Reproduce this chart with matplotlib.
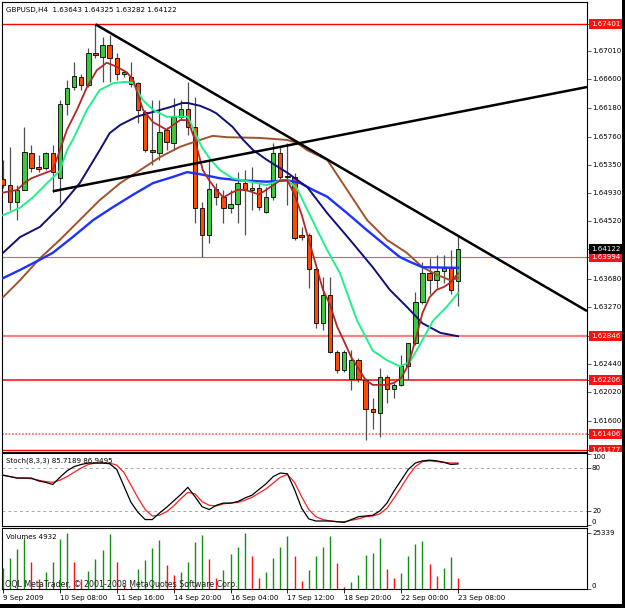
import matplotlib
matplotlib.use('Agg')
import matplotlib.pyplot as plt
import numpy as np
from matplotlib.transforms import blended_transform_factory, Bbox
from matplotlib.patches import Rectangle

# ---------------- data ----------------
opens = [1.6514, 1.6505, 1.6480, 1.6498, 1.6552, 1.6531, 1.6530, 1.6552, 1.6515, 1.6624,
         1.6648, 1.6663, 1.6651, 1.6698, 1.6692, 1.6710, 1.6691, 1.6667, 1.6663, 1.6654,
         1.6612, 1.6556, 1.6552, 1.6585, 1.6567, 1.6605, 1.6616, 1.6590, 1.6472, 1.6432,
         1.6499, 1.6488, 1.6472, 1.6477, 1.6508, 1.6498, 1.6501, 1.6466, 1.6488, 1.6552,
         1.6517, 1.6517, 1.6432, 1.6432, 1.6382, 1.6303, 1.6344, 1.6261, 1.6235, 1.6222,
         1.6249, 1.6220, 1.6178, 1.6172, 1.6225, 1.6207, 1.6213, 1.6241, 1.6274, 1.6334,
         1.6376, 1.6366, 1.6379, 1.6384, 1.63643]
highs = [1.6542, 1.6561, 1.6505, 1.6590, 1.6564, 1.6549, 1.6553, 1.6564, 1.6629, 1.6659,
         1.6685, 1.6667, 1.6705, 1.67401, 1.6722, 1.6724, 1.6698, 1.6673, 1.6685, 1.6656,
         1.6615, 1.6629, 1.6629, 1.6590, 1.6632, 1.6629, 1.6656, 1.6634, 1.6480, 1.6542,
         1.6508, 1.6498, 1.6498, 1.6524, 1.6527, 1.6531, 1.6508, 1.6502, 1.6566, 1.6561,
         1.6566, 1.6523, 1.6444, 1.6435, 1.6384, 1.6371, 1.6371, 1.6264, 1.6264, 1.6264,
         1.6252, 1.6223, 1.6194, 1.6238, 1.6227, 1.6216, 1.6257, 1.6274, 1.6348, 1.6393,
         1.6398, 1.6403, 1.6403, 1.6410, 1.64325]
lows = [1.6501, 1.6469, 1.6454, 1.6501, 1.6524, 1.6524, 1.6527, 1.6495, 1.6479, 1.6607,
        1.6644, 1.6644, 1.6648, 1.6691, 1.6656, 1.6656, 1.6659, 1.6663, 1.6648, 1.6596,
        1.6553, 1.6534, 1.6542, 1.6556, 1.6556, 1.6600, 1.6578, 1.6450, 1.6400, 1.6420,
        1.6476, 1.6450, 1.6464, 1.6450, 1.6432, 1.6469, 1.6469, 1.6464, 1.6483, 1.6514,
        1.6476, 1.6425, 1.6425, 1.6355, 1.6296, 1.6293, 1.6260, 1.6230, 1.6232, 1.6205,
        1.6217, 1.6132, 1.6148, 1.6137, 1.6186, 1.6194, 1.6211, 1.6220, 1.6271, 1.6331,
        1.6346, 1.6354, 1.6362, 1.6346, 1.63282]
closes = [1.6505, 1.6480, 1.6498, 1.6553, 1.6530, 1.6529, 1.6552, 1.6524, 1.6624, 1.6647,
          1.6664, 1.6651, 1.6698, 1.6695, 1.6710, 1.6691, 1.6667, 1.6670, 1.6653, 1.6615,
          1.6556, 1.6553, 1.6582, 1.6568, 1.6605, 1.6616, 1.6590, 1.6472, 1.6432, 1.6499,
          1.6488, 1.6472, 1.6477, 1.6508, 1.6498, 1.6501, 1.6473, 1.6488, 1.6552, 1.6517,
          1.6519, 1.6428, 1.6429, 1.6382, 1.6303, 1.6344, 1.6261, 1.6235, 1.6261, 1.6249,
          1.6222, 1.6178, 1.6173, 1.6225, 1.6207, 1.6213, 1.6241, 1.6274, 1.6334, 1.6376,
          1.6366, 1.6379, 1.6384, 1.6352, 1.64122]

# moving averages (bar position, price)
ma_red_x = [0, 2, 3, 4, 6, 7, 8, 9, 10.4, 11.8, 13.2, 14.6, 16, 17.4, 18.3, 19.7, 21.1, 23, 24.9, 26,
            27, 28.1, 29, 30, 31, 32, 33, 34, 35, 36, 37, 38, 39, 40, 41, 42, 43, 44, 45, 46,
            47, 48, 49, 50, 51, 52, 53, 54, 55, 56, 57, 58, 59, 60, 61, 62, 63, 64]
ma_red_y = [1.6494, 1.6498, 1.6508, 1.6515, 1.6523, 1.6527, 1.6556, 1.6586, 1.6615, 1.6648,
            1.6673, 1.6684, 1.6678, 1.6670, 1.6659, 1.6615, 1.6597, 1.6586, 1.6600, 1.6600,
            1.6571, 1.6527, 1.6512, 1.6498, 1.6487, 1.6493, 1.6498, 1.6498, 1.6495, 1.6491,
            1.6498, 1.6505, 1.6512, 1.6512, 1.6491, 1.6462, 1.6425, 1.6389, 1.6352, 1.6330,
            1.6298, 1.6276, 1.6253, 1.6237, 1.6220, 1.6213, 1.6213, 1.6213, 1.6216, 1.6223,
            1.6242, 1.6278, 1.6318, 1.6341, 1.6352, 1.6356, 1.6363, 1.6376]
ma_green_x = [0, 2.4, 4.2, 6.6, 8, 9, 10, 11.8, 13.6, 15.5, 17.4, 18.3, 19.7, 21.1, 23, 24.9, 26, 27.3, 28, 29,
              30.5, 32.3, 34.7, 37.1, 39, 40, 41.3, 42.8, 44.2, 45.6, 47.4, 48.4, 49.8, 52, 54, 55.8,
              57.2, 58.6, 60.5, 62.4, 64]
ma_green_y = [1.6461, 1.6472, 1.6487, 1.6512, 1.6526, 1.6556, 1.6575, 1.6615, 1.6644, 1.6654,
              1.6656, 1.6654, 1.6629, 1.6615, 1.6605, 1.6605, 1.6605, 1.6575, 1.6560, 1.6545,
              1.6527, 1.6515, 1.6510, 1.6505, 1.6512, 1.6512, 1.6501, 1.6469, 1.6439, 1.6410,
              1.6376, 1.6347, 1.6307, 1.6263, 1.6249, 1.6240, 1.6246, 1.6271, 1.6307, 1.6327, 1.6347]
ma_navy_x = [0, 2.4, 5.2, 8, 10.8, 13.6, 15, 16.5, 18.8, 21.1, 23.5, 25.2, 26, 27.7, 29.1, 30,
             32.3, 33.8, 35.2, 37.1, 40, 42.8, 45.6, 48.8, 52, 54.4, 56.8, 59, 61.5, 64]
ma_navy_y = [1.6406, 1.6429, 1.6444, 1.6473, 1.6508, 1.6556, 1.6581, 1.6593, 1.6605, 1.6612,
             1.6619, 1.6625, 1.6625, 1.6621, 1.6615, 1.6610, 1.6590, 1.6571, 1.6556, 1.6542,
             1.6523, 1.6502, 1.6464, 1.6425, 1.6385, 1.6352, 1.6327, 1.6303, 1.6289, 1.6284]
ma_blue_x = [0, 2.4, 5.2, 7, 9.8, 12.7, 15.5, 18.3, 21.1, 23.9, 25.9, 27.7, 30.5, 33.3, 37.1, 40,
             41.8, 43.6, 45.6, 48.4, 51.2, 54, 55.8, 57.2, 59, 64]
ma_blue_y = [1.6369, 1.6381, 1.6396, 1.6406, 1.6429, 1.6454, 1.6473, 1.6491, 1.6508, 1.6517,
             1.6524, 1.6521, 1.6515, 1.6512, 1.6510, 1.6512, 1.6508, 1.6498, 1.6488, 1.6464,
             1.6439, 1.6415, 1.6400, 1.6393, 1.6385, 1.6384]
ma_brown_x = [0, 2.4, 5.2, 8, 10.8, 13.6, 16.5, 19.3, 22.1, 24.9, 27.7, 29.5, 31.5, 36.1, 40,
              41.3, 42.8, 45.6, 48.4, 51.2, 54, 56.8, 59, 61, 62.9, 64]
ma_brown_y = [1.6341, 1.6366, 1.6398, 1.6425, 1.6454, 1.6483, 1.6508, 1.6527, 1.6546, 1.6561,
              1.6571, 1.6577, 1.6575, 1.6574, 1.6571, 1.6567, 1.6556, 1.6542, 1.6498, 1.6454,
              1.6425, 1.6406, 1.6385, 1.6374, 1.6366, 1.6369]

# trend lines (bar position, price)
trend_down_x = [13, 82.14]
trend_down_y = [1.67401, 1.63209]
trend_up_x = [7, 82.14]
trend_up_y = [1.6496, 1.66484]

# horizontal levels
levels = [1.67401, 1.63994, 1.62846, 1.62206, 1.61406, 1.61177]
price_ticks = [1.67010, 1.66600, 1.66180, 1.65760, 1.65350, 1.64930, 1.64520,
               1.63680, 1.63270, 1.62440, 1.62020, 1.61600]
last_price = 1.64122

stoch_main = [70, 68, 66, 66, 66, 62, 60, 57, 67, 76, 82, 85, 87, 87, 87, 86, 78, 55, 32, 18,
              8, 8, 17, 25, 34, 43, 53, 40, 26, 22, 28, 31, 31, 33, 38, 42, 50, 58, 68, 73,
              72, 50, 24, 9, 6, 6, 6, 5, 4, 8, 12, 13, 14, 20, 31, 48, 63, 78, 87, 90,
              91, 90, 88, 85, 85.7189]
stoch_signal = [70, 68, 66, 66, 65, 63, 61, 60, 63, 68, 74, 80, 85, 87, 87, 87, 84, 74, 56, 38,
                22, 13, 14, 19, 27, 37, 46, 44, 33, 28, 27, 30, 31, 32, 35, 39, 45, 51, 59, 67,
                71, 60, 40, 22, 12, 8, 6, 5, 5, 7, 9, 12, 13, 16, 24, 38, 53, 69, 82, 89,
                90, 89, 88, 87, 86.9495]

volumes = [9500, 14000, 18000, 23000, 12200, 4500, 7700, 12200, 22600, 25300,
           12200, 4500, 8100, 13500, 17600, 24800, 12200, 2000, 1200, 9000,
           13100, 18500, 22100, 10800, 6300, 7700, 12200, 21200, 24400, 13500,
           5000, 8600, 15800, 19000, 25300, 14900, 5000, 7700, 14000, 19000,
           24000, 14900, 3600, 8600, 14900, 19000, 24000, 11700, 900, 3200,
           6300, 15400, 16300, 23000, 9000, 5000, 7200, 14900, 20300, 21700,
           11300, 5900, 9500, 14500, 4932]

date_ticks = [0, 8, 16, 24, 32, 40, 48, 56, 64]
date_labels = ["9 Sep 2009", "10 Sep 08:00", "11 Sep 16:00", "14 Sep 20:00", "16 Sep 04:00",
               "17 Sep 12:00", "18 Sep 20:00", "22 Sep 00:00", "23 Sep 08:00"]

# ---------------- figure ----------------
W, H = 625, 608
plt.rcParams['font.family'] = ['DejaVu Sans']
FS = 5.1
fig = plt.figure(figsize=(W / 100, H / 100), dpi=100)
fig.patch.set_facecolor('white')


def rect(left, top, right, bottom):
    return [left / W, 1 - bottom / H, (right - left) / W, (bottom - top) / H]


ax = fig.add_axes(rect(2, 2, 587, 452))
axs = fig.add_axes(rect(2, 453, 587, 526))
axv = fig.add_axes(rect(2, 528, 587, 589))

XL = (-0.14, 82.14)
for a in (ax, axs, axv):
    a.set_xlim(*XL)
    a.set_facecolor('white')
    for s in a.spines.values():
        s.set_color('black')
        s.set_linewidth(0.8)
    a.tick_params(axis='x', which='both', bottom=False, labelbottom=False)
    a.yaxis.tick_right()
    a.tick_params(axis='y', direction='out', length=3, width=0.6, labelright=False, colors='#404040')

# ---- main price panel ----
ax.set_ylim(1.61148, 1.67727)
idx = np.arange(len(opens))
o = np.array(opens); h = np.array(highs); l = np.array(lows); c = np.array(closes)

level_styles = [dict(color='red', lw=1.0, ls='-'),
                dict(color='#FF5050', lw=0.8, ls='-'),
                dict(color='#FF8080', lw=1.6, ls='-'),
                dict(color='red', lw=1.1, ls='-'),
                dict(color='#FF6060', lw=1.2, ls=(0, (1, 1))),
                dict(color='red', lw=1.0, ls='-')]
for lv, st in zip(levels, level_styles):
    ax.axhline(lv, zorder=2, **st)

ax.vlines(idx, l, h, color='#505050', lw=0.9, zorder=3)
up = c >= o
body_bot = np.minimum(o, c)
body_h = np.maximum(np.abs(c - o), 0.00005)
ax.bar(idx, body_h, width=0.62, bottom=body_bot,
       color=np.where(up, '#3CC83C', '#FF4A00'), edgecolor='black', linewidth=0.6, zorder=4)

ax.plot(ma_brown_x, ma_brown_y, color='#A0522D', lw=1.4, zorder=5)
ax.plot(ma_blue_x, ma_blue_y, color='#1E32FF', lw=1.7, zorder=5)
ax.plot(ma_navy_x, ma_navy_y, color='#101078', lw=1.4, zorder=5)
ax.plot(ma_green_x, ma_green_y, color='#22F08A', lw=1.4, zorder=5)
ax.plot(ma_red_x, ma_red_y, color='#B02828', lw=1.3, zorder=5)

ax.plot(trend_down_x, trend_down_y, color='black', lw=1.8, zorder=6, solid_capstyle='butt')
ax.plot(trend_up_x, trend_up_y, color='black', lw=1.8, zorder=6, solid_capstyle='butt')

ax.set_yticks(price_ticks + levels + [last_price])
ax.text(4 / 585, 0.982, "GBPUSD,H4  1.63643 1.64325 1.63282 1.64122", transform=ax.transAxes,
        fontsize=FS, va='center', ha='left', color='black', zorder=10)

tr = blended_transform_factory(ax.transAxes, ax.transData)
for p in price_ticks:
    ax.text(1.0085, p, f"{p:.5f}", transform=tr, fontsize=FS, va='center', ha='left',
            color='black', clip_on=False)
clipbox = Bbox([[570, H - 452], [W, H]])
for p in levels:
    t = ax.text(1.0075, p, f"{p:.5f}", transform=tr, fontsize=FS, va='center', ha='left',
                color='white', clip_on=False,
                bbox=dict(boxstyle='square,pad=0.28', fc='#FF1010', ec='none'))
    t.set_clip_box(clipbox)
    t.set_clip_on(True)
ax.text(1.0075, last_price, f"{last_price:.5f}", transform=tr, fontsize=FS, va='center',
        ha='left', color='white', clip_on=False,
        bbox=dict(boxstyle='square,pad=0.28', fc='black', ec='none'))

# ---- stochastic panel ----
axs.set_ylim(-1, 101)
for lv in (20, 80):
    axs.axhline(lv, color='#A8A8A8', lw=0.7, ls=(0, (3, 3)), zorder=1)
axs.plot(idx, stoch_signal, color='#FF2020', lw=0.9, zorder=3)
axs.plot(idx, stoch_main, color='black', lw=0.9, zorder=4)
axs.set_yticks([0, 20, 80, 100])
trs = blended_transform_factory(axs.transAxes, axs.transData)
for v, va in ((100, 'top'), (80, 'center'), (20, 'center'), (0, 'bottom')):
    axs.text(1.0085, v, str(v), transform=trs, fontsize=FS, va=va, ha='left', clip_on=False)
axs.text(4 / 585, 0.89, "Stoch(8,3,3) 85.7189 86.9495", transform=axs.transAxes,
         fontsize=FS, va='center', ha='left', zorder=10)

# ---- volume panel ----
vmax = 25339
axv.set_ylim(0, 27600)
vcol = ['#109010']
for i in range(1, len(volumes)):
    vcol.append('#109010' if volumes[i] > volumes[i - 1] else '#FF1010')
axv.vlines(idx, 0, volumes, colors=vcol, lw=1.0, zorder=3)
axv.set_yticks([0, vmax])
trv = blended_transform_factory(axv.transAxes, axv.transData)
axv.text(1.0085, vmax, str(vmax), transform=trv, fontsize=FS, va='center', ha='left', clip_on=False)
axv.text(1.0085, 0, "0", transform=trv, fontsize=FS, va='bottom', ha='left', clip_on=False)
axv.text(4 / 585, 0.852, "Volumes 4932", transform=axv.transAxes, fontsize=FS,
         va='center', ha='left', zorder=10)
axv.text(3 / 585, 0.08, "OQL MetaTrader, \u00a9 2001-2008 MetaQuotes Software Corp.",
         transform=axv.transAxes, fontsize=5.7, va='center', ha='left', color='#202020', zorder=10)

axv.set_xticks(date_ticks)
axv.set_xticklabels(date_labels, ha='left', fontsize=FS)
axv.tick_params(axis='x', bottom=True, labelbottom=True, direction='out', length=3,
                width=0.6, pad=1.5, colors='black')

# outer frame
fig.add_artist(Rectangle((622 / W, 0), 3 / W, 1, transform=fig.transFigure, color='black', lw=0))
fig.add_artist(Rectangle((0, 0), 1, 4 / H, transform=fig.transFigure, color='black', lw=0))

fig.savefig('out.png', dpi=100, facecolor='white')
